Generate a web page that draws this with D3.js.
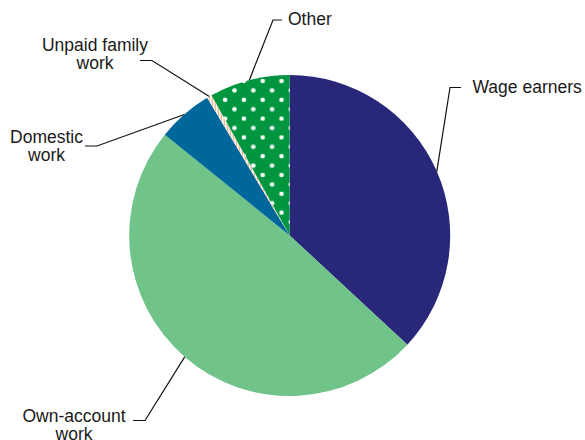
<!DOCTYPE html>
<html>
<head>
<meta charset="utf-8">
<script src="https://cdn.jsdelivr.net/npm/d3@7"></script>
<style>
  html, body { margin: 0; padding: 0; background: #fff; }
  svg { display: block; }
  text { font-family: "Liberation Sans", Arial, sans-serif; font-size: 17.5px; fill: #1a1a1a; }
</style>
</head>
<body>
<svg id="chart" width="585" height="440"></svg>
<script>
// Employment status shares (%), clockwise from 12 o'clock
const categories = ["Wage earners", "Own-account work", "Domestic work", "Unpaid family work", "Other"];
const shares = [36.9, 48.9, 5.6, 0.5, 8.1];
const labelLines = [["Wage earners"], ["Own-account", "work"], ["Domestic", "work"], ["Unpaid family", "work"], ["Other"]];

// Slice fills
const fills = ["#29277a", "#70c48a", "#00679a", "url(#stripes)", "url(#dots)"];

// Label placement: leader elbow, leader end, text anchor and baselines
const labelLayout = [
  { elbow: [450, 87.5], end: [461, 87.5], tx: 472.5, anchor: "start", ty: [92.5] },
  { elbow: [145, 420.5], end: [133, 420.5], tx: 74, anchor: "middle", ty: [421.5, 439.5] },
  { elbow: [97, 146], end: [85, 146], tx: 46.5, anchor: "middle", ty: [142.5, 160.5] },
  { elbow: [152, 60.5], end: [140, 60.5], tx: 95, anchor: "middle", ty: [50.5, 68.5] },
  { elbow: [273, 20], end: [282, 20], tx: 288, anchor: "start", ty: [24.5] }
];

const cx = 289.7, cy = 235.5, radius = 160.5;

const svg = d3.select("#chart");
const defs = svg.append("defs");

// Vertical hairline stripes
const stripes = defs.append("pattern")
  .attr("id", "stripes")
  .attr("patternUnits", "userSpaceOnUse")
  .attr("width", 3).attr("height", 10);
stripes.append("rect").attr("width", 3).attr("height", 10).attr("fill", "#ffffff");
stripes.append("rect").attr("width", 1.2).attr("height", 10).attr("fill", "#e3a57c");

// Staggered white polka dots on green
const dotStep = 18.8;
const dots = defs.append("pattern")
  .attr("id", "dots")
  .attr("patternUnits", "userSpaceOnUse")
  .attr("x", 281.5 - cx).attr("y", 81 - cy)
  .attr("width", dotStep).attr("height", dotStep);
dots.append("rect").attr("width", dotStep).attr("height", dotStep).attr("fill", "#00953f");
[[0, 0], [dotStep, 0], [0, dotStep], [dotStep, dotStep], [dotStep / 2, dotStep / 2]].forEach(([x, y]) => {
  dots.append("circle").attr("cx", x).attr("cy", y).attr("r", 2.3).attr("fill", "#ffffff");
});

const pie = d3.pie().sort(null).value(d => d).startAngle(0).endAngle(2 * Math.PI);
const arcs = pie(shares);
const arc = d3.arc().innerRadius(0).outerRadius(radius);

const g = svg.append("g").attr("transform", `translate(${cx},${cy})`);
g.selectAll("path.slice")
  .data(arcs)
  .join("path")
  .attr("class", "slice")
  .attr("d", arc)
  .attr("fill", (d, i) => fills[i]);

// Leader lines from the rim at each slice's mid-angle
const line = d3.line();
arcs.forEach((a, i) => {
  const mid = (a.startAngle + a.endAngle) / 2;
  const rim = [cx + radius * Math.sin(mid), cy - radius * Math.cos(mid)];
  const L = labelLayout[i];
  svg.append("path")
    .attr("d", line([rim, L.elbow, L.end]))
    .attr("fill", "none")
    .attr("stroke", "#111")
    .attr("stroke-width", 1.2);
  const t = svg.append("text").attr("text-anchor", L.anchor);
  labelLines[i].forEach((s, k) => {
    t.append("tspan").attr("x", L.tx).attr("y", L.ty[k]).text(s);
  });
});
</script>
</body>
</html>
